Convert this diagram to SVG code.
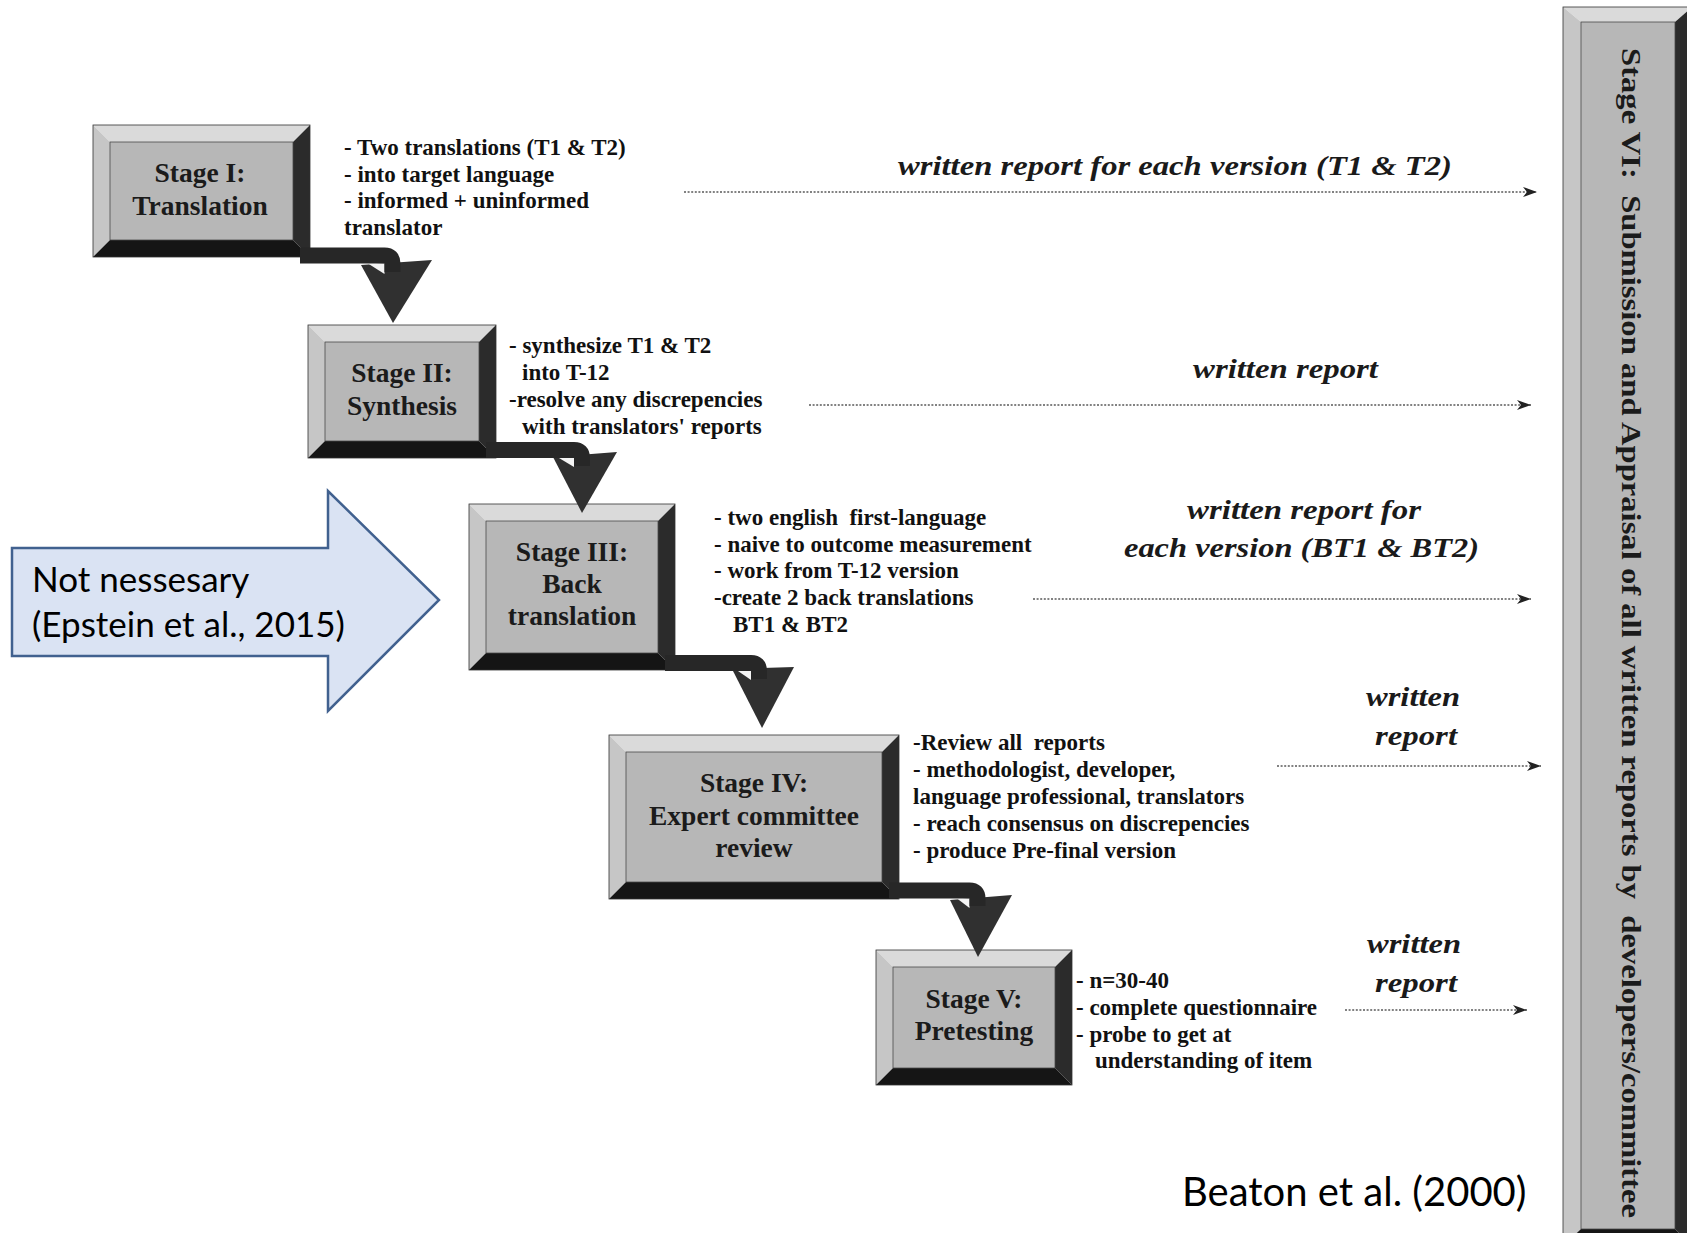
<svg xmlns="http://www.w3.org/2000/svg" width="1687" height="1233" viewBox="0 0 1687 1233">
<defs>
<style>
.bt{fill:#dadada}.bl{fill:#c6c6c6}.br{fill:#2b2b2b}.bb{fill:#151515}
.face{fill:#b7b7b7;stroke:#4a4a4a;stroke-width:0.8}
.edge{fill:none;stroke:#333;stroke-width:0.8}
.lbl{font-family:"Liberation Serif","Times New Roman",serif;font-weight:bold;font-size:27.5px;fill:#1b1b1b;text-anchor:middle}
.bul{font-family:"Liberation Serif","Times New Roman",serif;font-weight:bold;font-size:23px;fill:#111;white-space:pre}
.rep{font-family:"Liberation Serif","Times New Roman",serif;font-weight:bold;font-style:italic;font-size:28px;fill:#1a1a1a}
.vt{font-family:"Liberation Serif","Times New Roman",serif;font-weight:bold;font-size:27px;fill:#1b1b1b;white-space:pre}
.note{font-family:Lato,"Open Sans",sans-serif;font-size:35px;fill:#000}
.cite{font-family:Lato,"Open Sans",sans-serif;font-size:40px;fill:#000}
.dot{fill:none;stroke:#5a5a5a;stroke-width:1.4;stroke-dasharray:2 1.6}
.band{fill:none;stroke:#272727;stroke-width:16;stroke-linejoin:round}
.head{fill:#303030}
.notch{fill:#f4f4f4}
</style>
<marker id="dh" viewBox="0 0 14 10" refX="14" refY="5" markerWidth="14" markerHeight="10" markerUnits="userSpaceOnUse" orient="auto">
<path d="M0,0 L14,5 L0,10 L4,5 z" fill="#222"/>
</marker>
</defs>
<rect width="1687" height="1233" fill="#fff"/>

<g id="stage1">
<polygon class="bt" points="93,125 310,125 293,142 110,142"/>
<polygon class="bl" points="93,125 110,142 110,240 93,257"/>
<polygon class="br" points="310,125 310,257 293,240 293,142"/>
<polygon class="bb" points="93,257 310,257 293,240 110,240"/>
<rect class="face" x="110" y="142" width="183" height="98"/>
<rect class="edge" x="93" y="125" width="217" height="132"/>
<text class="lbl" x="200" y="182">Stage I:</text>
<text class="lbl" x="200" y="215">Translation</text>
<text class="bul" x="344" y="155">- Two translations (T1 &amp; T2)</text>
<text class="bul" x="344" y="182">- into target language</text>
<text class="bul" x="344" y="208">- informed + uninformed</text>
<text class="bul" x="344" y="235">translator</text>
</g>

<g id="stage2">
<polygon class="bt" points="308,325 496,325 479,342 325,342"/>
<polygon class="bl" points="308,325 325,342 325,441 308,458"/>
<polygon class="br" points="496,325 496,458 479,441 479,342"/>
<polygon class="bb" points="308,458 496,458 479,441 325,441"/>
<rect class="face" x="325" y="342" width="154" height="99"/>
<rect class="edge" x="308" y="325" width="188" height="133"/>
<text class="lbl" x="402" y="382">Stage II:</text>
<text class="lbl" x="402" y="415">Synthesis</text>
<text class="bul" x="509" y="353">- synthesize T1 &amp; T2</text>
<text class="bul" x="522" y="380">into T-12</text>
<text class="bul" x="509" y="407">-resolve any discrepencies</text>
<text class="bul" x="522" y="434">with translators' reports</text>
</g>

<g id="stage3">
<polygon class="bt" points="469,504 675,504 658,521 486,521"/>
<polygon class="bl" points="469,504 486,521 486,653 469,670"/>
<polygon class="br" points="675,504 675,670 658,653 658,521"/>
<polygon class="bb" points="469,670 675,670 658,653 486,653"/>
<rect class="face" x="486" y="521" width="172" height="132"/>
<rect class="edge" x="469" y="504" width="206" height="166"/>
<text class="lbl" x="572" y="561">Stage III:</text>
<text class="lbl" x="572" y="593">Back</text>
<text class="lbl" x="572" y="625">translation</text>
<text class="bul" x="714" y="525">- two english  first-language</text>
<text class="bul" x="714" y="552">- naive to outcome measurement</text>
<text class="bul" x="714" y="578">- work from T-12 version</text>
<text class="bul" x="714" y="605">-create 2 back translations</text>
<text class="bul" x="733" y="632">BT1 &amp; BT2</text>
</g>

<g id="stage4">
<polygon class="bt" points="609,735 899,735 882,752 626,752"/>
<polygon class="bl" points="609,735 626,752 626,882 609,899"/>
<polygon class="br" points="899,735 899,899 882,882 882,752"/>
<polygon class="bb" points="609,899 899,899 882,882 626,882"/>
<rect class="face" x="626" y="752" width="256" height="130"/>
<rect class="edge" x="609" y="735" width="290" height="164"/>
<text class="lbl" x="754" y="792">Stage IV:</text>
<text class="lbl" x="754" y="825">Expert committee</text>
<text class="lbl" x="754" y="857">review</text>
<text class="bul" x="913" y="750">-Review all  reports</text>
<text class="bul" x="913" y="777">- methodologist, developer,</text>
<text class="bul" x="913" y="804">language professional, translators</text>
<text class="bul" x="913" y="831">- reach consensus on discrepencies</text>
<text class="bul" x="913" y="858">- produce Pre-final version</text>
</g>

<g id="stage5">
<polygon class="bt" points="876,950 1072,950 1055,967 893,967"/>
<polygon class="bl" points="876,950 893,967 893,1068 876,1085"/>
<polygon class="br" points="1072,950 1072,1085 1055,1068 1055,967"/>
<polygon class="bb" points="876,1085 1072,1085 1055,1068 893,1068"/>
<rect class="face" x="893" y="967" width="162" height="101"/>
<rect class="edge" x="876" y="950" width="196" height="135"/>
<text class="lbl" x="974" y="1008">Stage V:</text>
<text class="lbl" x="974" y="1040">Pretesting</text>
<text class="bul" x="1076" y="988">- n=30-40</text>
<text class="bul" x="1076" y="1015">- complete questionnaire</text>
<text class="bul" x="1076" y="1042">- probe to get at</text>
<text class="bul" x="1095" y="1068">understanding of item</text>
</g>

<g id="stage6">
<polygon class="bt" points="1563,7 1692,7 1675,22 1581,22"/>
<polygon class="bl" points="1563,7 1581,22 1581,1229 1563,1246"/>
<polygon class="br" points="1692,7 1692,1246 1675,1229 1675,22"/>
<polygon class="bb" points="1563,1246 1692,1246 1675,1229 1581,1229"/>
<rect class="face" x="1581" y="22" width="94" height="1207"/>
<rect class="edge" x="1563" y="7" width="129" height="1239"/>
<text class="vt" transform="translate(1622,48) rotate(90)" x="0" y="0" textLength="1170" lengthAdjust="spacingAndGlyphs">Stage VI:  Submission and Appraisal of all written reports by  developers/committee</text>
</g>

<g id="reports">
<text class="rep" x="898" y="175" textLength="554" lengthAdjust="spacingAndGlyphs">written report for each version (T1 &amp; T2)</text>
<text class="rep" x="1193" y="378" textLength="185" lengthAdjust="spacingAndGlyphs">written report</text>
<text class="rep" x="1187" y="519" textLength="234" lengthAdjust="spacingAndGlyphs">written report for</text>
<text class="rep" x="1124" y="557" textLength="355" lengthAdjust="spacingAndGlyphs">each version (BT1 &amp; BT2)</text>
<text class="rep" x="1366" y="706" textLength="94" lengthAdjust="spacingAndGlyphs">written</text>
<text class="rep" x="1375" y="745" textLength="82" lengthAdjust="spacingAndGlyphs">report</text>
<text class="rep" x="1367" y="953" textLength="94" lengthAdjust="spacingAndGlyphs">written</text>
<text class="rep" x="1375" y="992" textLength="82" lengthAdjust="spacingAndGlyphs">report</text>
</g>

<g id="note">
<polygon points="12,548 328,548 328,491 439,600 328,711 328,656 12,656" fill="#dae3f3" stroke="#41618f" stroke-width="2.5"/>
<text class="note" x="32" y="592">Not nessesary</text>
<text class="note" x="32" y="637">(Epstein et al., 2015)</text>
</g>

<g id="citation">
<text class="cite" x="1182" y="1206">Beaton et al. (2000)</text>
</g>

<g id="connectors">
<polygon class="head" points="361,265 432,260 393,323"/>
<polygon class="notch" points="368,263.5 384.5,263.5 384.5,274"/>
<path class="band" d="M300,255.5 H384.5 Q392.5,255.5 392.5,263.5 V272"/>

<polygon class="head" points="553,457 617,452 582,513"/>
<polygon class="notch" points="559,458 574,458 574,467"/>
<path class="band" d="M486,450 H574 Q582,450 582,458 V466"/>

<polygon class="head" points="732,669 794,667 762,728"/>
<polygon class="notch" points="738,671 751,671 751,680"/>
<path class="band" d="M665,663 H751 Q759,663 759,671 V679"/>

<polygon class="head" points="950,900 1012,895 978,957"/>
<polygon class="notch" points="957,898.5 969.5,898.5 969.5,908"/>
<path class="band" d="M889,890.5 H969.5 Q977.5,890.5 977.5,898.5 V906"/>

<line class="dot" x1="684" y1="192" x2="1537" y2="192" marker-end="url(#dh)"/>
<line class="dot" x1="809" y1="405" x2="1531" y2="405" marker-end="url(#dh)"/>
<line class="dot" x1="1033" y1="599" x2="1531" y2="599" marker-end="url(#dh)"/>
<line class="dot" x1="1277" y1="766" x2="1541" y2="766" marker-end="url(#dh)"/>
<line class="dot" x1="1345" y1="1010" x2="1527" y2="1010" marker-end="url(#dh)"/>
</g>
</svg>
